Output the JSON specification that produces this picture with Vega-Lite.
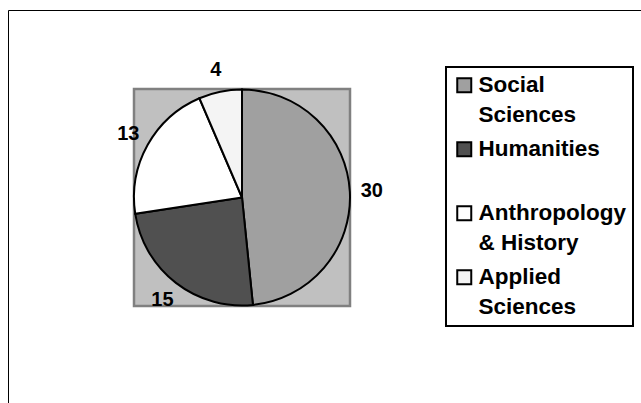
{
  "$schema": "https://vega.github.io/schema/vega-lite/v6.json",
  "width": 216,
  "height": 217,
  "autosize": {"type": "none"},
  "padding": {"left": 134, "top": 89, "right": 291, "bottom": 97},
  "background": "white",
  "data": {
    "values": [
      {"major": "Social Sciences", "count": 30, "order": 1},
      {"major": "Humanities", "count": 15, "order": 2},
      {"major": "Anthropology & History", "count": 13, "order": 3},
      {"major": "Applied Sciences", "count": 4, "order": 4}
    ]
  },
  "layer": [
    {
      "mark": {"type": "point", "opacity": 0},
      "encoding": {
        "x": {"datum": 0, "type": "quantitative", "scale": {"domain": [0, 1], "range": [-126, 510]},
              "axis": {"orient": "top", "offset": 79, "title": null, "labels": false, "ticks": false, "grid": false, "domain": true, "domainColor": "black", "domainWidth": 1}},
        "y": {"datum": 0, "type": "quantitative", "scale": {"domain": [0, 1], "range": [320, -79]},
              "axis": {"orient": "left", "offset": 126, "title": null, "labels": false, "ticks": false, "grid": false, "domain": true, "domainColor": "black", "domainWidth": 1}}
      }
    },
    {
      "mark": {"type": "arc", "outerRadius": 108, "stroke": "black", "strokeWidth": 2, "opacity": 1},
      "encoding": {
        "theta": {"field": "count", "type": "quantitative", "stack": true},
        "order": {"field": "order", "type": "quantitative"},
        "color": {
          "field": "major",
          "type": "nominal",
          "scale": {
            "domain": ["Social Sciences", "Humanities", "Anthropology & History", "Applied Sciences"],
            "range": ["#a0a0a0", "#505050", "#ffffff", "#f4f4f4"]
          },
          "legend": {
            "title": null,
            "orient": "none",
            "legendX": 312,
            "legendY": -22,
            "strokeColor": "black",
            "padding": 7,
            "symbolType": "square",
            "symbolSize": 196,
            "symbolStrokeColor": "black",
            "symbolStrokeWidth": 2,
            "symbolOpacity": 1,
            "labelFont": "Liberation Sans",
            "labelFontWeight": "bold",
            "labelFontSize": 22.5,
            "labelColor": "black",
            "labelLimit": 400,
            "labelOffset": 3,
            "rowPadding": 11,
            "labelExpr": "datum.label == 'Social Sciences' ? ['Social', 'Sciences'] : datum.label == 'Humanities' ? ['Humanities', ''] : datum.label == 'Anthropology & History' ? ['Anthropology', '& History'] : ['Applied', 'Sciences']",
            "encode": {"legend": {"update": {"strokeWidth": {"value": 2}}}}
          }
        }
      }
    },
    {
      "mark": {"type": "text", "radius": 130, "font": "Liberation Sans", "fontWeight": "bold", "fontSize": 20},
      "encoding": {
        "theta": {"field": "count", "type": "quantitative", "stack": true},
        "order": {"field": "order", "type": "quantitative"},
        "text": {"field": "count", "type": "quantitative"},
        "detail": {"field": "major", "type": "nominal"},
        "color": {"value": "black"}
      }
    }
  ],
  "config": {
    "view": {"fill": "#c0c0c0", "stroke": "#808080", "strokeWidth": 2.5},
    "style": {
      "view": {"fill": "#c0c0c0", "stroke": "#808080", "strokeWidth": 2.5},
      "cell": {"fill": "#c0c0c0", "stroke": "#808080", "strokeWidth": 2.5},
      "guide-label": {"lineHeight": 30}
    }
  }
}
